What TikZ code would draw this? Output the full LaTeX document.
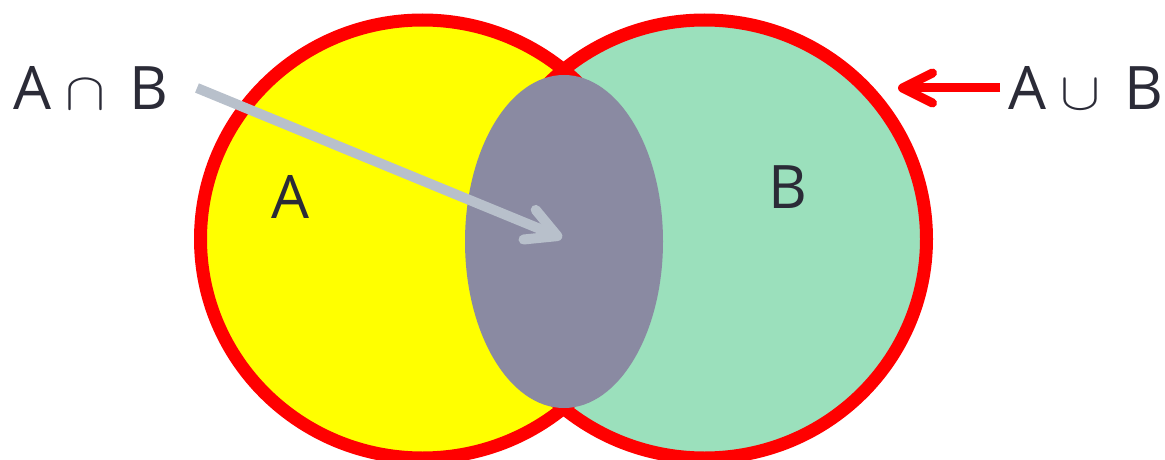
\documentclass[tikz,border=0pt]{standalone}
\usepackage{graphicx}
\usepackage{fontspec}
\setmainfont{Open Sans}
\usetikzlibrary{arrows.meta,shapes.geometric}
\definecolor{setred}{HTML}{FF0000}
\definecolor{setyellow}{HTML}{FFFF00}
\definecolor{setgreen}{HTML}{9BE0BC}
\definecolor{meetgray}{HTML}{8A8AA2}
\definecolor{arrowgray}{HTML}{B8C0CB}
\definecolor{inkdark}{HTML}{2B2B37}
\newcommand{\bigcapsym}{\scalebox{6}[5.3]{\fontsize{10}{12}\selectfont$\cap$}}
\newcommand{\bigcupsym}{\scalebox{6}[5.3]{\fontsize{10}{12}\selectfont$\cup$}}
\begin{document}
\begin{tikzpicture}[x=1pt,y=-1pt, font=\fontsize{60}{72}\selectfont, text=inkdark,
  setfill/.style={ellipse,inner sep=0pt,outer sep=0pt,minimum width=444pt,minimum height=438pt},
  setring/.style={setfill,draw=setred,line width=13pt},
  meet/.style={ellipse,fill=meetgray,inner sep=0pt,minimum width=198pt,minimum height=333pt},
  lbl/.style={inner sep=0pt,anchor=base west},
  grayarrow/.style={draw=arrowgray,line width=10pt,-{Straight Barb[round,length=30pt,width=32pt]}},
  redarrow/.style={draw=setred,line width=9pt,-{Straight Barb[round,length=30pt,width=30pt]}}]
  \useasboundingbox (0,0) rectangle (1165,460);
  \node[setfill,fill=setyellow](sa) at (422.5,239){};
  \node[setfill,fill=setgreen](sb) at (704.5,239){};
  \node[setring] at (sa){};
  \node[setring] at (sb){};
  \node[meet](ab) at (564,241.5){};
  \node[inner sep=0pt](la) at (290,197){A};
  \node[inner sep=0pt](lb) at (788,187){B};
  \node[lbl](capl) at (13,110){A\hspace{14pt}\bigcapsym\hspace{24pt}B};
  \node[lbl](cupl) at (1008,110){A\hspace{14pt}\bigcupsym\hspace{24pt}B};
  \coordinate(capfrom) at (197,88); \coordinate(capto) at (562,238);
  \coordinate(cupfrom) at (1000,88); \coordinate(cupto) at (898,88);
  \draw[grayarrow](capfrom)--(capto);
  \draw[redarrow](cupfrom)--(cupto);
\end{tikzpicture}
\end{document}
